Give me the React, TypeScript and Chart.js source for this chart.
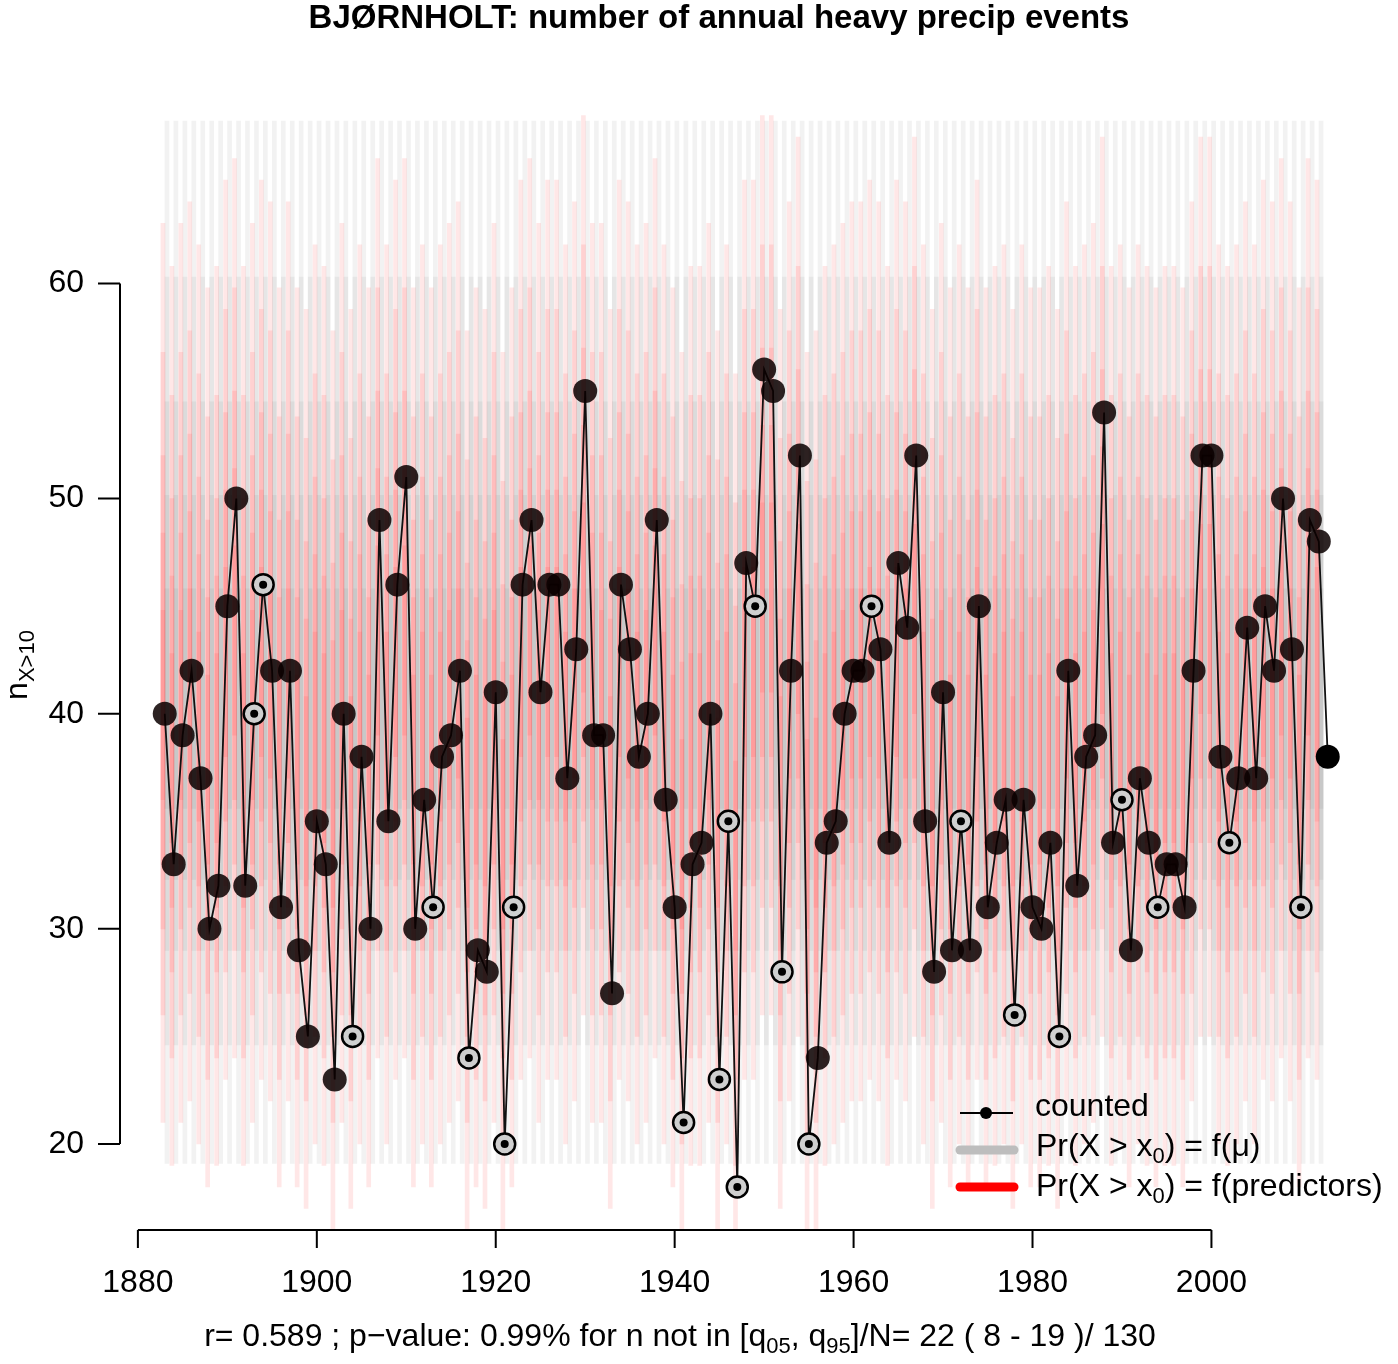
import React, { useEffect, useRef } from "react";
import { Chart, registerables } from "chart.js";
Chart.register(...registerables);

const startYear = 1883;
const counts = [40,33,39,42,37,30,32,
45,50,32,40,46,42,31,42,29,25,
35,33,23,40,25,38,30,49,35,46,
51,30,36,31,38,39,42,24,29,28,
41,20,31,46,49,41,46,46,37,43,
55,39,39,27,46,43,38,40,49,36,
31,21,33,34,40,23,35,18,47,45,
56,55,28,42,52,20,24,34,35,40,
42,42,45,43,34,47,44,52,35,28,
41,29,35,29,45,31,34,36,26,36,
31,30,34,25,42,32,38,39,54,34,
36,29,37,34,31,33,33,31,42,52,
52,38,34,37,44,37,45,42,50,43,
31,49,48,38];
const outsideYears = [1893,1894,1904,1913,1917,1921,1922,1941,1945,1946,1947,1949,1952,1955,1962,1972,1978,1983,1990,1994,2002,2010];
const redMid = [40,38,40,41,39,37,38,
42,43,38,40,42,41,37,41,37,36,
39,38,35,40,36,39,37,43,39,42,
43,37,39,37,39,40,41,35,37,36,
40,34,37,42,43,40,42,42,39,41,
45,40,40,36,42,41,39,40,43,39,
37,34,38,38,40,35,39,33,42,42,
45,45,36,41,44,34,35,38,39,40,
41,41,42,41,38,42,41,44,39,36,
40,37,39,37,42,37,38,39,36,39,
37,37,38,36,41,38,39,40,44,38,
39,37,39,38,37,38,38,37,41,44,
44,39,38,39,41,39,42,41,43,41,
37,43,42];
const climMid = 40;
const bandHalfWidths = [4, 7, 10, 14, 19];
const xTicks = [1880, 1900, 1920, 1940, 1960, 1980, 2000];
const yTicks = [20, 30, 40, 50, 60];

const FONT = '"Liberation Sans", Arial, sans-serif';

function drawSubText(ctx: CanvasRenderingContext2D, parts: [string, boolean][], x: number, y: number, size: number, align: "left" | "center") {
  const sub = Math.round(size * 0.7);
  let total = 0;
  for (const [t, s] of parts) { ctx.font = `${s ? sub : size}px ${FONT}`; total += ctx.measureText(t).width; }
  let cx = align === "center" ? x - total / 2 : x;
  ctx.textAlign = "left";
  for (const [t, s] of parts) {
    ctx.font = `${s ? sub : size}px ${FONT}`;
    ctx.fillText(t, cx, s ? y + size * 0.3 : y);
    cx += ctx.measureText(t).width;
  }
}

const decor = {
  id: "decor",
  afterDraw(chart: any) {
    const ctx = chart.ctx as CanvasRenderingContext2D;
    const xs = chart.scales.x, ys = chart.scales.y;
    const axisY = chart.chartArea.bottom;
    const axisX = chart.chartArea.left;
    ctx.save();
    ctx.fillStyle = "#000"; ctx.strokeStyle = "#000"; ctx.lineWidth = 2;
    ctx.textBaseline = "middle";
    ctx.font = `bold 33px ${FONT}`; ctx.textAlign = "center";
    ctx.fillText("BJØRNHOLT: number of annual heavy precip events", 719, 19);
    ctx.beginPath();
    ctx.moveTo(xs.getPixelForValue(xTicks[0]), axisY);
    ctx.lineTo(xs.getPixelForValue(xTicks[xTicks.length - 1]), axisY);
    for (const t of xTicks) { const px = xs.getPixelForValue(t); ctx.moveTo(px, axisY); ctx.lineTo(px, axisY + 18); }
    ctx.stroke();
    ctx.font = `32px ${FONT}`;
    for (const t of xTicks) ctx.fillText(String(t), xs.getPixelForValue(t), 1283);
    ctx.beginPath();
    ctx.moveTo(axisX, ys.getPixelForValue(yTicks[0]));
    ctx.lineTo(axisX, ys.getPixelForValue(yTicks[yTicks.length - 1]));
    for (const t of yTicks) { const py = ys.getPixelForValue(t); ctx.moveTo(axisX, py); ctx.lineTo(axisX - 22, py); }
    ctx.stroke();
    ctx.textAlign = "right";
    for (const t of yTicks) ctx.fillText(String(t), 84, ys.getPixelForValue(t));
    ctx.save(); ctx.translate(18, 665); ctx.rotate(-Math.PI / 2);
    drawSubText(ctx, [["n", false], ["X>10", true]], 0, 0, 32, "center");
    ctx.restore();
    drawSubText(ctx, [["r= 0.589 ; p\u2212value: 0.99% for n not in [q", false], ["05", true], [", q", false], ["95", true], ["]/N= 22 ( 8 - 19 )/ 130", false]], 680, 1337, 32, "center");
    ctx.lineWidth = 2; ctx.beginPath(); ctx.moveTo(960, 1113); ctx.lineTo(1013, 1113); ctx.stroke();
    ctx.beginPath(); ctx.arc(986, 1113, 6, 0, Math.PI * 2); ctx.fill();
    ctx.lineWidth = 9; ctx.lineCap = "round";
    ctx.strokeStyle = "#bdbdbd"; ctx.beginPath(); ctx.moveTo(960, 1150); ctx.lineTo(1014, 1150); ctx.stroke();
    ctx.strokeStyle = "#ff0000"; ctx.beginPath(); ctx.moveTo(960, 1187); ctx.lineTo(1014, 1187); ctx.stroke();
    ctx.fillStyle = "#000";
    ctx.font = `32px ${FONT}`; ctx.textAlign = "left";
    ctx.fillText("counted", 1035, 1107);
    drawSubText(ctx, [["Pr(X > x", false], ["0", true], [") = f(\u03bc)", false]], 1036, 1147, 32, "left");
    drawSubText(ctx, [["Pr(X > x", false], ["0", true], [") = f(predictors)", false]], 1036, 1187, 32, "left");
    ctx.restore();
  },
};

export default function App() {
  const ref = useRef<HTMLCanvasElement>(null);
  useEffect(() => {
    const years = counts.map((_, i) => startYear + i);
    const barYears = redMid.map((_, i) => startYear + i);
    const datasets: any[] = [];
    bandHalfWidths.forEach((h) => {
      datasets.push({
        type: "bar", order: 10, grouped: false, barThickness: 4,
        backgroundColor: "rgba(110,110,110,0.085)",
        data: barYears.map((yr) => ({ x: yr + 0.25, y: [climMid - h * 1.1, climMid + h * 1.45] })),
      });
      datasets.push({
        type: "bar", order: 9, grouped: false, barThickness: 4,
        backgroundColor: "rgba(255,20,20,0.1)",
        data: barYears.map((yr, i) => ({ x: yr - 0.2, y: [redMid[i] - h, redMid[i] + h * 1.2] })),
      });
    });
    datasets.push({
      type: "line", order: 3, borderColor: "#111", borderWidth: 1.8, pointRadius: 0,
      data: years.map((yr, i) => ({ x: yr, y: counts[i] })),
    });
    const isOut = (yr: number) => outsideYears.includes(yr);
    const solidYears = years.filter((yr) => !isOut(yr));
    datasets.push({
      type: "scatter", order: 2, pointRadius: 12, borderWidth: 0,
      backgroundColor: solidYears.map((yr) => (yr === years[years.length - 1] ? "#000" : "rgba(10,0,0,0.86)")),
      data: solidYears.map((yr) => ({ x: yr, y: counts[yr - startYear] })),
    });
    datasets.push({
      type: "scatter", order: 1, pointRadius: 10.5, borderWidth: 2.5, borderColor: "#000", backgroundColor: "#cfcfcf",
      data: outsideYears.map((yr) => ({ x: yr, y: counts[yr - startYear] })),
    });
    datasets.push({
      type: "scatter", order: 0, pointRadius: 4, borderWidth: 0, backgroundColor: "#000",
      data: outsideYears.map((yr) => ({ x: yr, y: counts[yr - startYear] })),
    });
    const chart = new Chart(ref.current!, {
      type: "bar",
      data: { datasets },
      plugins: [decor],
      options: {
        animation: false, responsive: false, devicePixelRatio: 1,
        layout: { padding: { left: 120, top: 92, bottom: 134, right: 0 } },
        plugins: { legend: { display: false }, tooltip: { enabled: false }, title: { display: false } },
        scales: {
          x: { type: "linear", offset: false, min: 1878, max: 2019.4, display: false },
          y: { type: "linear", min: 16, max: 68.9, display: false },
        },
      } as any,
    });
    return () => chart.destroy();
  }, []);
  return (
    <div style={{ position: "absolute", left: 0, top: 0, background: "#fff" }}>
      <canvas ref={ref} width={1398} height={1364} style={{ width: 1398, height: 1364 }} />
    </div>
  );
}
